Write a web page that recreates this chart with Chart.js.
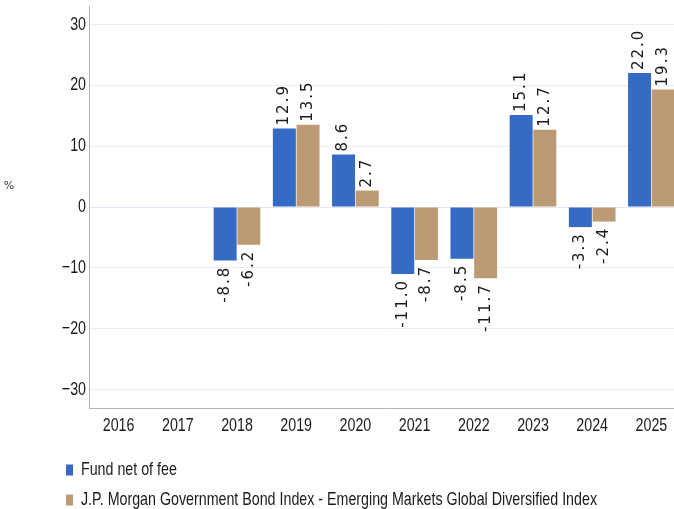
<!DOCTYPE html>
<html>
<head>
<meta charset="utf-8">
<script src="https://cdn.jsdelivr.net/npm/chart.js@4.4.1/dist/chart.umd.min.js"></script>
<style>
    body { margin: 0; background: #fff; overflow: hidden; }
    #wrap { width: 681px; height: 509px; }
</style>
</head>
<body>
<div id="wrap"><canvas id="myChart"></canvas></div>
<script>
// values
const years = ['2016', '2017', '2018', '2019', '2020', '2021', '2022', '2023', '2024', '2025']
const fundNet = [null, null, -8.8, 12.9, 8.6, -11.0, -8.5, 15.1, -3.3, 22.0]
const benchmark = [null, null, -6.2, 13.5, 2.7, -8.7, -11.7, 12.7, -2.4, 19.3]
const seriesNames = ['Fund net of fee', 'J.P. Morgan Government Bond Index - Emerging Markets Global Diversified Index']
const yTicks = [-30, -20, -10, 0, 10, 20, 30]

// the original uses a tall, narrow face: draw Liberation Sans squeezed sideways
const axisFont = '19px "Liberation Sans", Arial, sans-serif'
let squeeze = 0.74

const narrowText = (ctx, txt, x, y, align) => {
    const w = ctx.measureText(txt).width * squeeze
    let left = x
    if (align === 'center') left = x - w / 2
    if (align === 'right') left = x - w
    ctx.save()
    ctx.translate(left, y)
    ctx.scale(squeeze, 1)
    ctx.textAlign = 'left'
    ctx.fillText(txt, 0, 0)
    ctx.restore()
}

// rotated value labels on the bars
const barLabels = {
    id: 'barLabels',
    afterDatasetsDraw(chart) {
        const ctx = chart.ctx
        ctx.save()
        ctx.font = '15px "DejaVu Sans", Verdana, sans-serif'
        ctx.fillStyle = '#1a1a1a'
        ctx.letterSpacing = '2px'
        ctx.textBaseline = 'middle'
        chart.data.datasets.forEach((ds, i) => {
            chart.getDatasetMeta(i).data.forEach((bar, j) => {
                const v = ds.data[j]
                if (v === null) return
                const txt = v.toFixed(1)
                ctx.save()
                if (v >= 0) {
                    ctx.translate(bar.x, bar.y - 3)
                    ctx.rotate(-Math.PI / 2)
                    ctx.textAlign = 'left'
                } else {
                    ctx.translate(bar.x, bar.y + 5)
                    ctx.rotate(-Math.PI / 2)
                    ctx.textAlign = 'right'
                }
                ctx.fillText(txt, 0, 0)
                ctx.restore()
            })
        })
        ctx.restore()
    }
}

// tick labels, legend list and the % unit
const extras = {
    id: 'extras',
    afterDraw(chart) {
        const ctx = chart.ctx
        const xs = chart.scales.x
        const ys = chart.scales.y
        ctx.save()
        ctx.font = '11px "DejaVu Sans", Verdana, sans-serif'
        ctx.fillStyle = '#333'
        ctx.textAlign = 'center'
        ctx.textBaseline = 'middle'
        ctx.fillText('%', 9, 186)

        ctx.font = axisFont
        ctx.fillStyle = '#1a1a1a'
        // fit the long legend entry to its width in the picture
        squeeze = 516 / ctx.measureText(seriesNames[1]).width

        years.forEach((yr, i) => {
            narrowText(ctx, yr, xs.getPixelForTick(i), 426, 'center')
        })
        yTicks.forEach(v => {
            const txt = v < 0 ? '\u2212' + Math.abs(v) : String(v)
            narrowText(ctx, txt, 86, ys.getPixelForValue(v), 'right')
        })

        chart.data.datasets.forEach((ds, i) => {
            const y = 470 + i * 30
            ctx.fillStyle = ds.backgroundColor
            ctx.fillRect(66, y - 5.5, 7, 11)
            ctx.fillStyle = '#1a1a1a'
            narrowText(ctx, ds.label, 81, y, 'left')
        })
        ctx.restore()
    }
}

const ctx = document.getElementById('myChart')

new Chart(ctx, {
    type: 'bar',
    data: {
        labels: years,
        datasets: [{
            label: seriesNames[0],
            data: fundNet,
            backgroundColor: '#356bc4'
        }, {
            label: seriesNames[1],
            data: benchmark,
            backgroundColor: '#bc9b74'
        }]
    },
    options: {
        responsive: true,
        maintainAspectRatio: false,
        animation: false,
        layout: { padding: { top: 6, right: 0, left: 0, bottom: 0 } },
        datasets: {
            bar: { categoryPercentage: 0.8, barPercentage: 0.97 }
        },
        plugins: {
            legend: { display: false },
            tooltip: { enabled: false }
        },
        scales: {
            x: {
                grid: { display: false, drawTicks: false },
                border: { color: '#b5b5b5' },
                ticks: { display: false },
                afterFit: (scale) => { scale.height = 101 }
            },
            y: {
                min: -33,
                max: 33,
                afterBuildTicks: (scale) => {
                    scale.ticks = yTicks.map(v => ({ value: v }))
                },
                grid: {
                    drawTicks: false,
                    color: (c) => c.tick && c.tick.value === 0 ? '#e2e5f4' : '#ededed'
                },
                border: { color: '#b5b5b5' },
                ticks: { display: false },
                afterFit: (scale) => { scale.width = 89 }
            }
        }
    },
    plugins: [barLabels, extras]
})
</script>
</body>
</html>
